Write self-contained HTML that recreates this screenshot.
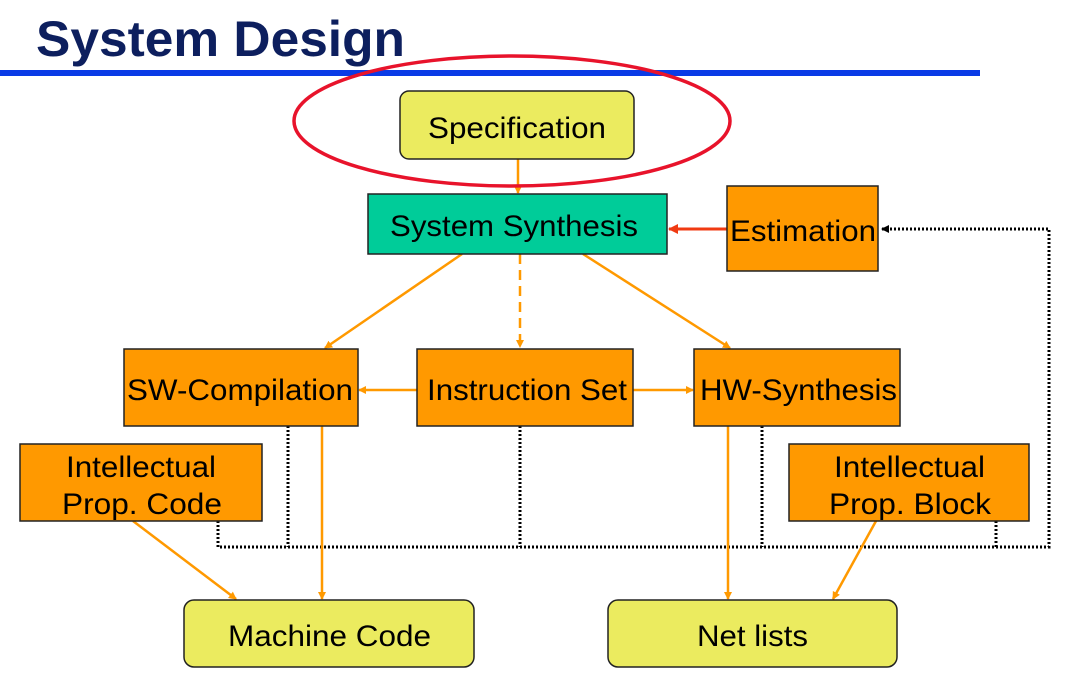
<!DOCTYPE html>
<html><head><meta charset="utf-8"><style>
body{margin:0;background:#fff;width:1081px;height:676px;overflow:hidden}
svg text{font-family:"Liberation Sans",sans-serif}
</style></head><body>
<svg width="1081" height="676" viewBox="0 0 1081 676">
<defs>
<marker id="a" markerWidth="8" markerHeight="8" refX="7" refY="4" orient="auto" markerUnits="userSpaceOnUse"><path d="M0,0 L8,4 L0,8 z" fill="#ff9900"/></marker>
<marker id="r" markerWidth="10" markerHeight="10" refX="9" refY="5" orient="auto" markerUnits="userSpaceOnUse"><path d="M0,0 L10,5 L0,10 z" fill="#f03a12"/></marker>
<marker id="k" markerWidth="8" markerHeight="8" refX="7" refY="4" orient="auto" markerUnits="userSpaceOnUse"><path d="M0,0 L8,4 L0,8 z" fill="#000"/></marker>
</defs>
<text x="36" y="56" font-size="50" font-weight="bold" fill="#0d1f5e" textLength="369" lengthAdjust="spacingAndGlyphs">System Design</text>
<rect x="0" y="70" width="980" height="6" fill="#0a3be6"/>
<g stroke="#000" stroke-width="3" stroke-dasharray="2,2" fill="none">
<path d="M218,521 V547 H1049 V229 H882" marker-end="url(#k)"/>
<path d="M288,426 V547 M520,426 V547 M762,426 V547 M996,521 V547"/>
</g>
<g stroke="#ff9900" stroke-width="2.5" fill="none">
<path d="M518,159 V193" marker-end="url(#a)"/>
<path d="M462,254 L325,348" marker-end="url(#a)"/>
<path d="M520,254 V347" stroke-dasharray="10,6" marker-end="url(#a)"/>
<path d="M583,254 L730,348" marker-end="url(#a)"/>
<path d="M417,390 H359" marker-end="url(#a)"/>
<path d="M633,390 H693" marker-end="url(#a)"/>
<path d="M322,426 V599" marker-end="url(#a)"/>
<path d="M133,521 L236,599" marker-end="url(#a)"/>
<path d="M728,426 V599" marker-end="url(#a)"/>
<path d="M876,521 L833,599" marker-end="url(#a)"/>
</g>
<path d="M727,229 H669" stroke="#f03a12" stroke-width="3" marker-end="url(#r)"/>
<g stroke="#222" stroke-width="1.5">
<rect x="400" y="91" width="234" height="68" rx="9" fill="#ebeb5f"/>
<rect x="368" y="194" width="299" height="60" fill="#00cc99"/>
<rect x="727" y="186" width="151" height="85" fill="#ff9900"/>
<rect x="124" y="349" width="234" height="77" fill="#ff9900"/>
<rect x="417" y="349" width="216" height="77" fill="#ff9900"/>
<rect x="694" y="349" width="206" height="77" fill="#ff9900"/>
<rect x="20" y="444" width="242" height="77" fill="#ff9900"/>
<rect x="789" y="444" width="240" height="77" fill="#ff9900"/>
<rect x="184" y="600" width="290" height="67" rx="10" fill="#ebeb5f"/>
<rect x="608" y="600" width="289" height="67" rx="10" fill="#ebeb5f"/>
</g>
<ellipse cx="512" cy="121" rx="218" ry="65" fill="none" stroke="#e8132b" stroke-width="3.5"/>
<g font-size="30" fill="#000" lengthAdjust="spacingAndGlyphs">
<text x="428" y="138" textLength="178" lengthAdjust="spacingAndGlyphs">Specification</text>
<text x="390" y="236" textLength="248" lengthAdjust="spacingAndGlyphs">System Synthesis</text>
<text x="730" y="241" textLength="146" lengthAdjust="spacingAndGlyphs">Estimation</text>
<text x="127" y="400" textLength="226" lengthAdjust="spacingAndGlyphs">SW-Compilation</text>
<text x="427" y="400" textLength="200" lengthAdjust="spacingAndGlyphs">Instruction Set</text>
<text x="700" y="400" textLength="197" lengthAdjust="spacingAndGlyphs">HW-Synthesis</text>
<text x="66" y="477" textLength="150" lengthAdjust="spacingAndGlyphs">Intellectual</text>
<text x="62" y="514" textLength="160" lengthAdjust="spacingAndGlyphs">Prop. Code</text>
<text x="834" y="477" textLength="151" lengthAdjust="spacingAndGlyphs">Intellectual</text>
<text x="829" y="514" textLength="162" lengthAdjust="spacingAndGlyphs">Prop. Block</text>
<text x="228" y="646" textLength="203" lengthAdjust="spacingAndGlyphs">Machine Code</text>
<text x="697" y="646" textLength="111" lengthAdjust="spacingAndGlyphs">Net lists</text>
</g>
</svg>
</body></html>
